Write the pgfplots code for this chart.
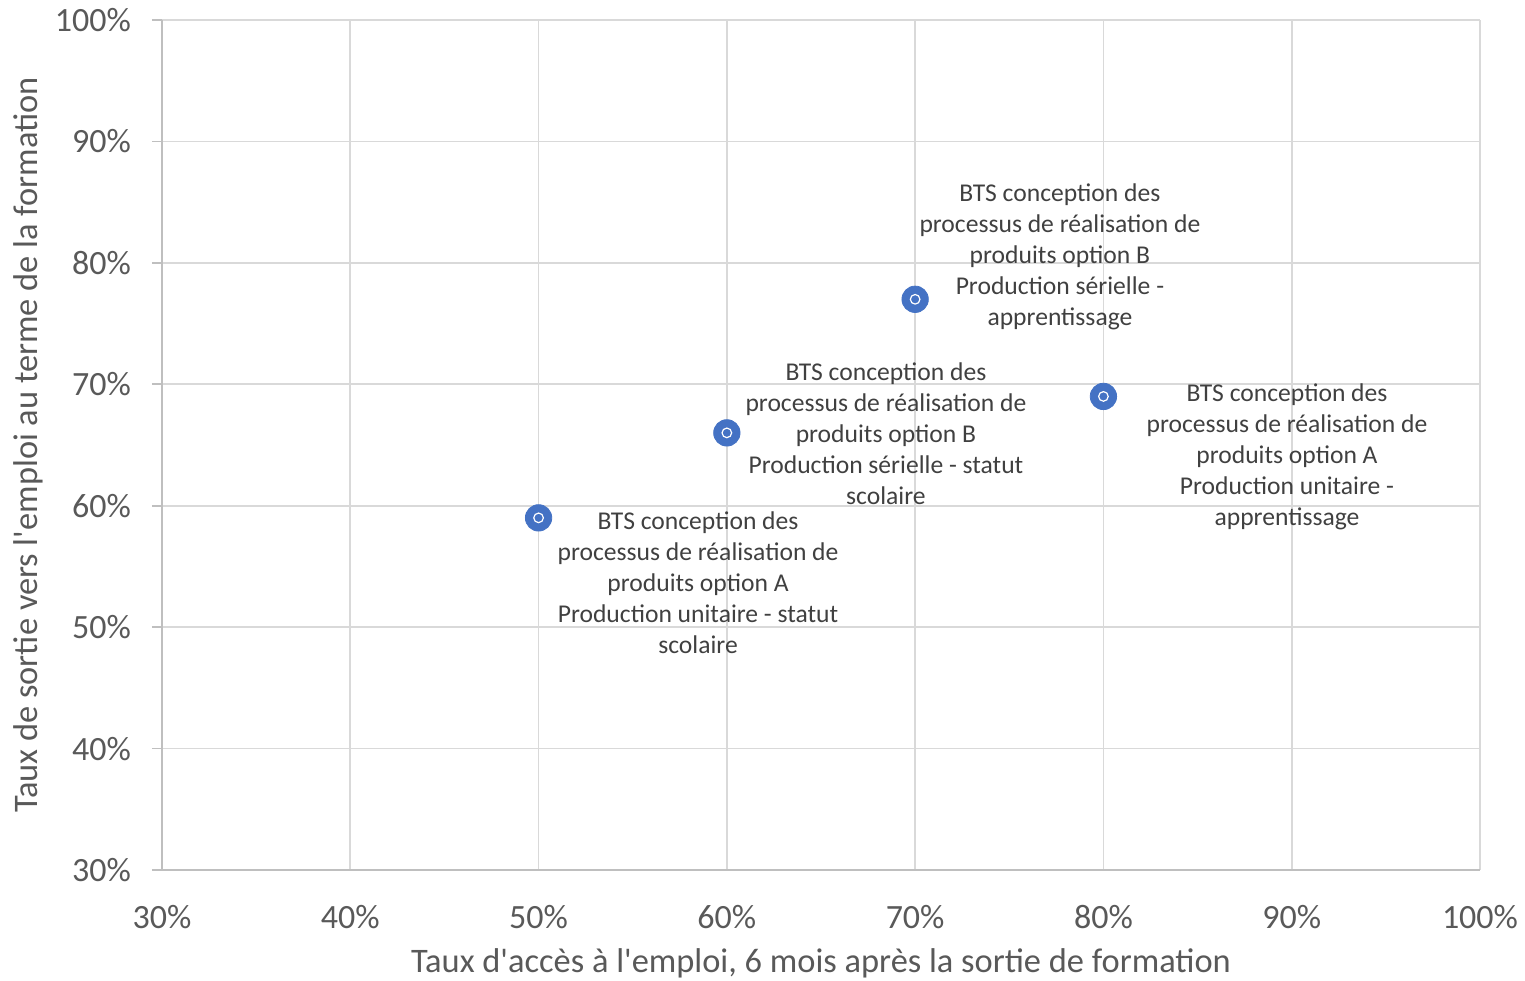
\documentclass[border=0pt]{standalone}
\usepackage{pgfplots}
\pgfplotsset{compat=1.18}
\usepackage{fontspec}
\setmainfont{Carlito}
\definecolor{ptblue}{HTML}{4472C4}
\definecolor{gridgrey}{HTML}{D9D9D9}
\definecolor{axisgrey}{HTML}{BFBFBF}
\definecolor{ticktext}{HTML}{595959}
\definecolor{labeltext}{HTML}{404040}
\begin{document}
\begin{tikzpicture}
\begin{axis}[
  scale only axis,
  width=659pt, height=425pt,
  at={(0,0)}, anchor=south west,
  xmin=30, xmax=100, ymin=30, ymax=100,
  xtick={30,40,...,100}, ytick={30,40,...,100},
  xticklabel={\pgfmathprintnumber{\tick}\%},
  yticklabel={\pgfmathprintnumber{\tick}\%},
  /pgf/number format/assume math mode=true,
  ticklabel style={font=\fontsize{17}{20}\selectfont, text=ticktext},
  xtick style={draw=none},
  ytick style={draw=axisgrey, line width=0.8pt},
  tick align=outside,
  major tick length=5pt,
  xticklabel shift=9pt,
  yticklabel shift=7pt,
  grid=major,
  major grid style={draw=gridgrey, line width=0.8pt},
  axis x line*=bottom, axis y line*=left,
  axis line style={draw=axisgrey, line width=0.8pt, -},
  xlabel={Taux d\textquotesingle accès à l\textquotesingle emploi, 6 mois après la sortie de formation},
  ylabel={Taux de sortie vers l\textquotesingle emploi au terme de la formation},
  label style={font=\fontsize{17.2}{20}\selectfont, text=ticktext},
  xlabel style={yshift=-3pt},
  ylabel style={yshift=-1pt},
  clip=false,
]
\addplot[only marks, mark=*, mark size=6.6pt, mark options={fill=ptblue, draw=ptblue}]
  coordinates {(50,59) (60,66) (70,77) (80,69)};
\addplot[only marks, mark=o, mark size=2.4pt, mark options={draw=white, line width=0.6pt}]
  coordinates {(50,59) (60,66) (70,77) (80,69)};
\begin{scope}[every node/.style={align=center, text=labeltext,
    font=\fontsize{12.8}{15.5}\selectfont}]
\node at (axis cs:58.47,53.64) {BTS conception des\\processus de réalisation de\\produits option A\\Production unitaire - statut\\scolaire};
\node at (axis cs:68.45,65.90) {BTS conception des\\processus de réalisation de\\produits option B\\Production sérielle - statut\\scolaire};
\node at (axis cs:77.69,80.48) {BTS conception des\\processus de réalisation de\\produits option B\\Production sérielle -\\apprentissage};
\node at (axis cs:89.75,64.01) {BTS conception des\\processus de réalisation de\\produits option A\\Production unitaire -\\apprentissage};
\end{scope}
\end{axis}
\pgfresetboundingbox
\path[use as bounding box] (-81pt,-55pt) rectangle (681.5pt,435pt);
\end{tikzpicture}
\end{document}
